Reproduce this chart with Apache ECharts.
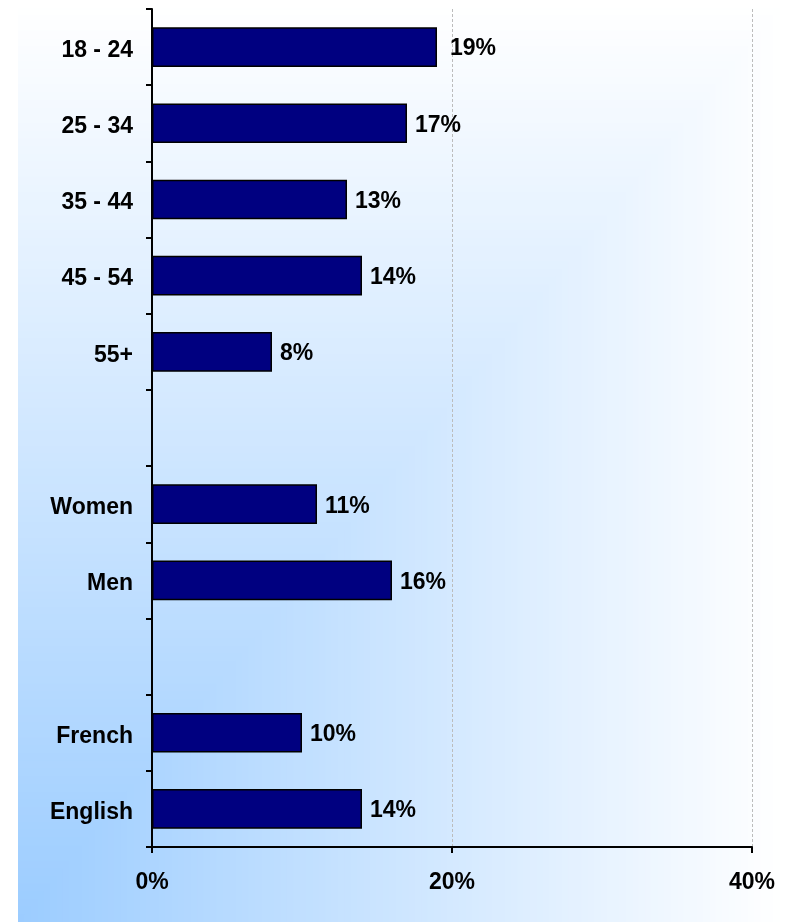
<!DOCTYPE html>
<html>
<head>
<meta charset="utf-8">
<script src="https://cdn.jsdelivr.net/npm/echarts@6/dist/echarts.min.js"></script>
<style>
  html, body { margin: 0; padding: 0; background: #ffffff; }
  #chart { width: 786px; height: 922px; }
</style>
</head>
<body>
<div id="chart"></div>
<script>
// Respondent groups (blank entries separate the age, gender and language blocks)
const categories = ['18 - 24', '25 - 34', '35 - 44', '45 - 54', '55+', '', 'Women', 'Men', ' ', 'French', 'English'];
// Share of each group, in percent
const shares = [19, 17, 13, 14, 8, null, 11, 16, null, 10, 14];
// Value axis ticks, in percent
const xTicks = [0, 20, 40];

const W = 786, H = 922;
const FONT = "'Liberation Sans', Arial, sans-serif";
const TEXT = { color: '#000', fontSize: 23, fontWeight: 'bold', fontFamily: FONT };

// Corner-anchored backdrop: nested rectangles from the lower-left corner,
// fading from light blue to white.
function backdrop() {
  const x0 = 18, y1 = H, bw = W - x0, bh = H;
  const from = [155, 204, 255], to = [255, 255, 255];
  const steps = 120;
  const els = [];
  for (let k = 0; k < steps; k++) {
    const s = 1 - k / steps;
    const c = from.map((f, i) => Math.round(f + (to[i] - f) * s));
    els.push({
      type: 'rect',
      silent: true,
      z: -10,
      shape: { x: x0, y: y1 - bh * s, width: bw * s, height: bh * s },
      style: { fill: `rgb(${c[0]},${c[1]},${c[2]})` }
    });
  }
  return els;
}

// The top bar's label sits a little further out from its bar end
const barData = shares.map((v, i) => (i === 0 ? { value: v, label: { distance: 13 } } : v));

const chart = echarts.init(document.getElementById('chart'), null, { renderer: 'canvas' });
chart.setOption({
  animation: false,
  backgroundColor: '#ffffff',
  graphic: { elements: backdrop() },
  grid: { left: 152, right: 34, top: 9, bottom: 75, containLabel: false },
  xAxis: {
    type: 'value',
    min: xTicks[0],
    max: xTicks[xTicks.length - 1],
    interval: xTicks[1] - xTicks[0],
    axisLine: { show: true, lineStyle: { color: '#000', width: 2 } },
    axisTick: { show: true, length: 6, lineStyle: { color: '#000', width: 2 } },
    axisLabel: Object.assign({ formatter: '{value}%', margin: 24 }, TEXT),
    splitLine: { show: true, lineStyle: { color: '#bcbcbc', width: 1, type: [3, 2] } }
  },
  yAxis: {
    type: 'category',
    inverse: true,
    data: categories,
    axisLine: { show: true, lineStyle: { color: '#000', width: 2 } },
    axisTick: { show: true, length: 6, lineStyle: { color: '#000', width: 2 } },
    axisLabel: Object.assign({
      margin: 19,
      formatter: (v) => (v.trim() ? '{g|' + v + '}' : ''),
      rich: { g: Object.assign({ padding: [7, 0, 0, 0] }, TEXT) }
    }, TEXT),
    splitLine: { show: false }
  },
  series: [{
    type: 'bar',
    data: barData,
    barWidth: '52%',
    itemStyle: { color: '#000080', borderColor: '#000', borderWidth: 1.5 },
    label: Object.assign({ show: true, position: 'right', distance: 8, offset: [0, 2], formatter: '{c}%' }, TEXT)
  }]
});
</script>
</body>
</html>
